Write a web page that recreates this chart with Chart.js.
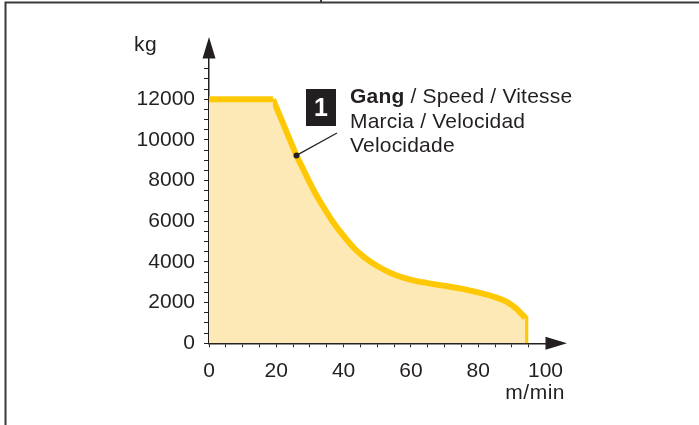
<!DOCTYPE html>
<html>
<head>
<meta charset="utf-8">
<script src="https://cdn.jsdelivr.net/npm/chart.js@4/dist/chart.umd.min.js"></script>
<style>
  body { margin: 0; background: #fff; }
  #wrap { width: 699px; height: 425px; position: relative; }
</style>
</head>
<body>
<div id="wrap"><canvas id="chart" width="699" height="425"></canvas></div>
<script>
// speed (m/min) vs. load (kg)
const plateauSpeed = [0, 19]
const plateauLoad = [12000, 12000]
const curveSpeed = [19, 22.5, 26, 28, 31, 34, 37, 40, 43, 46, 50, 55, 60, 65, 70, 75, 80, 85, 88.5, 91, 94]
const curveLoad = [12000, 10620, 9240, 8560, 7560, 6700, 5930, 5280, 4700, 4250, 3800, 3380, 3120, 2960, 2830, 2690, 2500, 2270, 2040, 1750, 1250]
const dropSpeed = [91, 94, 94]
const dropLoad = [1750, 1250, 0]

const yLabels = [0, 2000, 4000, 6000, 8000, 10000, 12000]
const xLabels = [0, 20, 40, 60, 80, 100]

const ink = "#231f20"
const lineColor = "#ffc805"
const fillColor = "#fde9b5"
const font = "'Liberation Sans', Arial, sans-serif"

const toPoints = (xs, ys) => xs.map((x, i) => ({ x: x, y: ys[i] }))

// frame, arrows, axis units and the callout
const decorations = {
  id: "decorations",
  beforeInit(chart) {
    chart.ctx.letterSpacing = "1.2px"
  },
  afterDraw(chart) {
    const ctx = chart.ctx
    const area = chart.chartArea
    ctx.save()
    ctx.letterSpacing = "0px"

    // frame lines
    ctx.strokeStyle = "#3a3a3a"
    ctx.lineWidth = 2
    ctx.beginPath()
    ctx.moveTo(5.5, 425)
    ctx.lineTo(5.5, 2.5)
    ctx.lineTo(699, 2.5)
    ctx.moveTo(321, 0)
    ctx.lineTo(321, 3)
    ctx.stroke()

    // axis arrows
    ctx.fillStyle = ink
    ctx.beginPath()
    ctx.moveTo(area.left, 37)
    ctx.lineTo(area.left - 6.5, area.top)
    ctx.lineTo(area.left + 6.5, area.top)
    ctx.closePath()
    ctx.fill()
    ctx.beginPath()
    ctx.moveTo(567, area.bottom)
    ctx.lineTo(area.right, area.bottom - 6.5)
    ctx.lineTo(area.right, area.bottom + 6.5)
    ctx.closePath()
    ctx.fill()

    // units
    ctx.font = "21px " + font
    ctx.letterSpacing = "0.5px"
    ctx.textBaseline = "alphabetic"
    ctx.textAlign = "left"
    ctx.fillText("kg", 134, 51)
    ctx.textAlign = "right"
    ctx.fillText("m/min", 565, 399)

    // callout
    const xs = chart.scales.x
    const ys = chart.scales.y
    const dotX = xs.getPixelForValue(curveSpeed[2])
    const dotY = ys.getPixelForValue(curveLoad[2])
    ctx.strokeStyle = ink
    ctx.lineWidth = 1.2
    ctx.beginPath()
    ctx.moveTo(dotX, dotY)
    ctx.lineTo(337, 133)
    ctx.stroke()
    ctx.beginPath()
    ctx.arc(dotX, dotY, 3, 0, Math.PI * 2)
    ctx.fill()

    ctx.fillRect(306, 89, 30, 37)
    ctx.fillStyle = "#fff"
    ctx.letterSpacing = "0px"
    ctx.font = "bold 25px " + font
    ctx.textAlign = "center"
    ctx.fillText("1", 321, 116)

    ctx.fillStyle = ink
    ctx.textAlign = "left"
    ctx.font = "bold 21px " + font
    ctx.letterSpacing = "0.2px"
    ctx.fillText("Gang", 350, 103)
    const w = ctx.measureText("Gang").width
    ctx.font = "21px " + font
    ctx.fillText(" / Speed / Vitesse", 350 + w, 103)
    ctx.fillText("Marcia / Velocidad", 350, 128)
    ctx.fillText("Velocidade", 350, 152)
    ctx.restore()
  },
}

const tickColor = (max) => (c) => (c.tick && c.tick.value > max ? "rgba(0,0,0,0)" : ink)

new Chart(document.getElementById("chart"), {
  type: "line",
  data: {
    datasets: [
      {
        data: toPoints(plateauSpeed, plateauLoad),
        borderColor: lineColor,
        backgroundColor: fillColor,
        borderWidth: 6,
        fill: "origin",
        tension: 0,
        pointRadius: 0,
      },
      {
        label: "Gang / Speed / Vitesse",
        data: toPoints(curveSpeed, curveLoad),
        borderColor: lineColor,
        backgroundColor: fillColor,
        borderWidth: 6,
        fill: "origin",
        cubicInterpolationMode: "monotone",
        pointRadius: 0,
      },
      {
        data: toPoints(dropSpeed, dropLoad),
        borderColor: lineColor,
        borderWidth: 6,
        fill: false,
        tension: 0,
        borderJoinStyle: "miter",
        pointRadius: 0,
      },
    ],
  },
  options: {
    responsive: false,
    animation: false,
    layout: { padding: { top: 58.6, right: 153.5, left: 0, bottom: 0 } },
    plugins: { legend: { display: false }, tooltip: { enabled: false } },
    scales: {
      x: {
        type: "linear",
        min: 0,
        max: 100,
        afterFit: (s) => { s.height = 425 - 343.3 },
        ticks: {
          stepSize: 5,
          autoSkip: false,
          maxRotation: 0,
          padding: 11,
          color: ink,
          font: { family: font, size: 21 },
          callback: (v) => (xLabels.includes(v) ? String(v) : ""),
        },
        grid: { drawOnChartArea: false, tickLength: 4, lineWidth: 1, color: tickColor(95) },
        border: { color: ink, width: 1.5 },
      },
      y: {
        type: "linear",
        min: 0,
        max: 14000,
        afterFit: (s) => { s.width = 209 },
        ticks: {
          stepSize: 500,
          autoSkip: false,
          padding: 9,
          color: ink,
          font: { family: font, size: 21 },
          callback: (v) => (yLabels.includes(v) ? String(v) : ""),
        },
        grid: { drawOnChartArea: false, tickLength: 5, lineWidth: 1, color: tickColor(13500) },
        border: { color: ink, width: 1.5 },
      },
    },
  },
  plugins: [decorations],
})
</script>
</body>
</html>
